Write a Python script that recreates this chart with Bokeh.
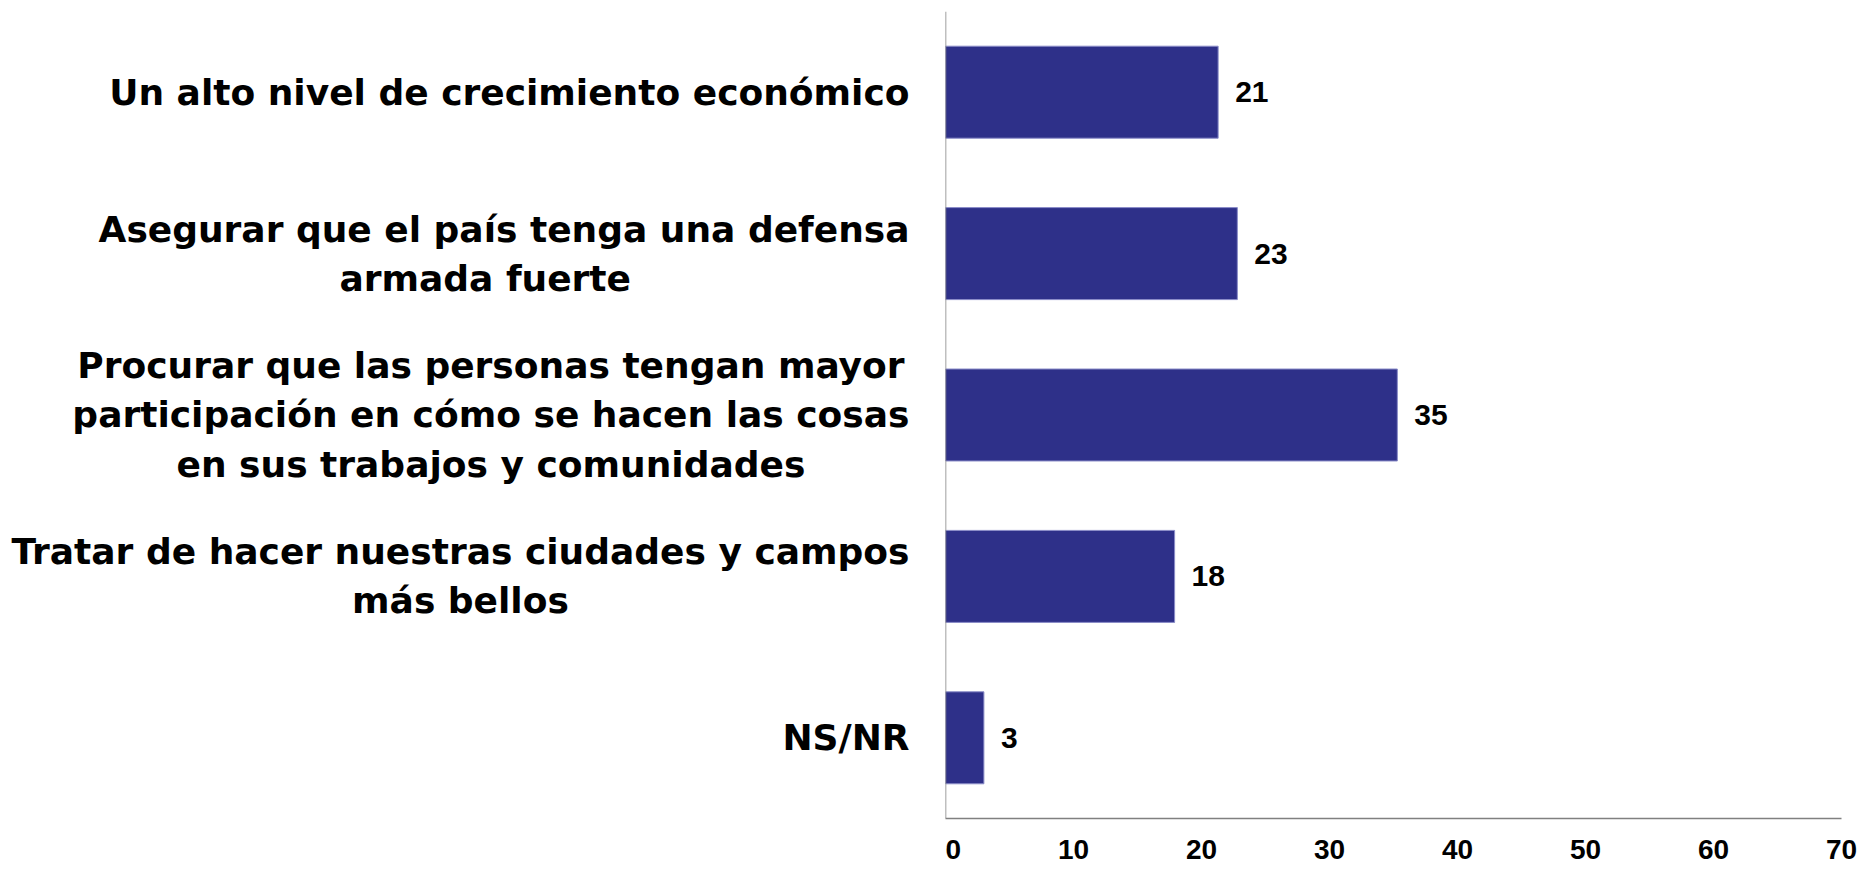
from bokeh.plotting import figure
from bokeh.layouts import row
from bokeh.models import FactorRange, Range1d, FixedTicker, ColumnDataSource, Span
from bokeh.embed import file_html
from bokeh.resources import INLINE
from bokeh.core.properties import value

categories = [
    "Un alto nivel de crecimiento económico",
    "Asegurar que el país tenga una defensa\narmada fuerte   ",
    "Procurar que las personas tengan mayor\nparticipación en cómo se hacen las cosas\nen sus trabajos y comunidades",
    "Tratar de hacer nuestras ciudades y campos\nmás bellos",
    "NS/NR",
]
values = [21.3, 22.8, 35.3, 17.9, 3.0]
value_labels = ["21", "23", "35", "18", "3"]
x_ticks = [0, 10, 20, 30, 40, 50, 60, 70]

FONT = "Liberation Sans"
CAT_FONT = "DejaVu Sans"
BAR = "#2E3089"
AXIS = "#808080"

LEFT_W = 945
FRAME_W = 896
FRAME_H = 807
TOP = 11
BOTTOM = 52

src = ColumnDataSource(dict(cat=categories, val=values, lab=value_labels))
yr = FactorRange(*reversed(categories))

# label panel
lp = figure(
    y_range=yr, x_range=Range1d(0, LEFT_W),
    frame_width=LEFT_W, frame_height=FRAME_H,
    min_border_left=0, min_border_right=0, min_border_top=TOP, min_border_bottom=BOTTOM,
    output_backend="svg", toolbar_location=None,
)
lp.axis.visible = False
lp.grid.visible = False
lp.outline_line_color = None
lp.text(x=LEFT_W - 36, y="cat", text="cat", source=src,
        anchor="center_right", text_align="center", text_baseline="middle",
        text_line_height=1.2,
        text_font=value(CAT_FONT), text_font_size="36px", text_font_style="bold",
        text_color="black")

# chart panel
p = figure(
    y_range=yr, x_range=Range1d(0, 70),
    frame_width=FRAME_W, frame_height=FRAME_H,
    min_border_left=0, min_border_top=TOP, min_border_right=18, min_border_bottom=BOTTOM,
    output_backend="svg", toolbar_location=None,
)
p.outline_line_color = None
p.grid.visible = False
p.yaxis.visible = False

p.hbar(y="cat", right="val", left=0, height=0.57, source=src,
       fill_color=BAR, line_color="#8A8CC8", line_width=1)

p.text(x="val", y="cat", text="lab", source=src, x_offset=17,
       text_align="left", text_baseline="middle",
       text_font=value(FONT), text_font_size="30px", text_font_style="bold",
       text_color="black")

p.add_layout(Span(location=0, dimension="height", line_color=AXIS, line_width=1.5))

xa = p.xaxis[0]
xa.ticker = FixedTicker(ticks=x_ticks)
xa.axis_line_color = AXIS
xa.axis_line_width = 1.5
xa.major_tick_line_color = None
xa.minor_tick_line_color = None
xa.major_tick_out = 0
xa.major_tick_in = 0
xa.major_label_standoff = 21
xa.major_label_text_font = FONT
xa.major_label_text_font_size = "28px"
xa.major_label_text_font_style = "bold"
xa.major_label_text_color = "black"

layout = row(lp, p)
open("out.html", "w").write(file_html(layout, INLINE))
